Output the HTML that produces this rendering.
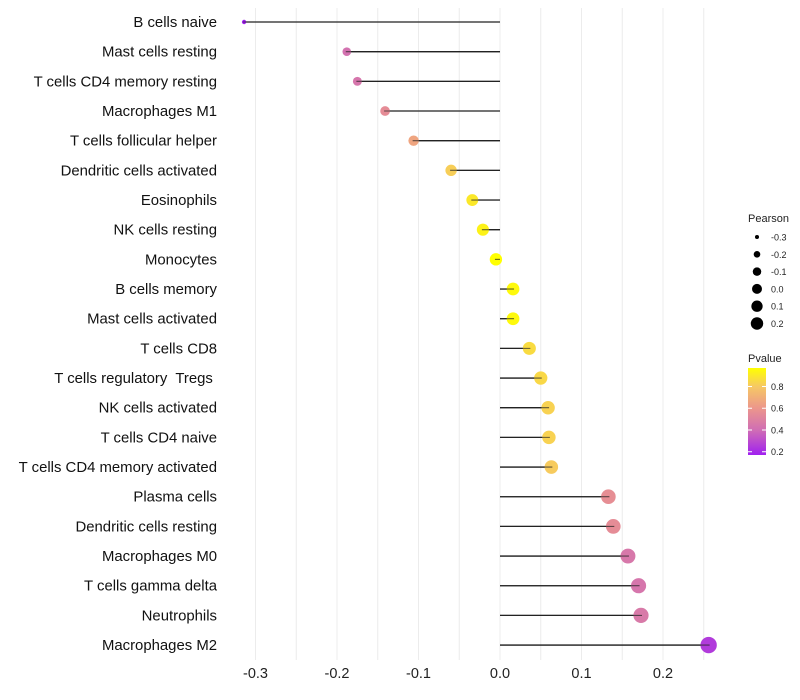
<!DOCTYPE html>
<html><head><meta charset="utf-8"><style>
body{margin:0;background:#fff;font-family:"Liberation Sans",Arial,sans-serif}
svg{display:block}
text{white-space:pre}
</style></head><body>
<svg id="chart" width="800" height="700"></svg>
<script>
const categories=["B cells naive","Mast cells resting","T cells CD4 memory resting","Macrophages M1","T cells follicular helper","Dendritic cells activated","Eosinophils","NK cells resting","Monocytes","B cells memory","Mast cells activated","T cells CD8","T cells regulatory  Tregs ","NK cells activated","T cells CD4 naive","T cells CD4 memory activated","Plasma cells","Dendritic cells resting","Macrophages M0","T cells gamma delta","Neutrophils","Macrophages M2"];
const pearson=[-0.314,-0.188,-0.175,-0.141,-0.106,-0.060,-0.034,-0.021,-0.005,0.016,0.016,0.036,0.050,0.059,0.060,0.063,0.133,0.139,0.157,0.170,0.173,0.256];
const pvalue=[0.17,0.42,0.44,0.55,0.66,0.82,0.90,0.93,0.98,0.95,0.95,0.86,0.85,0.83,0.83,0.81,0.56,0.55,0.45,0.44,0.46,0.25];
const xTicks=[-0.3,-0.2,-0.1,0.0,0.1,0.2];
const xTickLabels=["-0.3","-0.2","-0.1","0.0","0.1","0.2"];
const sizeLegend=[-0.3,-0.2,-0.1,0.0,0.1,0.2];
const sizeLegendLabels=["-0.3","-0.2","-0.1","0.0","0.1","0.2"];
const colorTicks=[0.2,0.4,0.6,0.8];

const NS="http://www.w3.org/2000/svg";
const svg=document.getElementById('chart');
function mk(t,a,p){const e=document.createElementNS(NS,t);for(const k in a)e.setAttribute(k,a[k]);(p||svg).appendChild(e);return e;}
const x=v=>500+v*815;
const y=i=>22+i*29.67;
const rad=v=>1.15*Math.sqrt(Math.max(2,4+82*(v+0.31)));
const stops=[[0.17,[160,32,240]],[0.4,[208,110,180]],[0.6,[236,150,140]],[0.8,[246,200,100]],[0.97,[255,255,0]]];
function col(p){if(p<=stops[0][0])return `rgb(${stops[0][1]})`;for(let i=1;i<stops.length;i++){if(p<=stops[i][0]){const a=stops[i-1],b=stops[i],t=(p-a[0])/(b[0]-a[0]);return `rgb(${a[1].map((c,j)=>Math.round(c+(b[1][j]-c)*t)).join(',')})`;}}return 'rgb(255,255,0)';}

const grid=mk('g',{});


for(let v=-0.3;v<=0.251;v+=0.05){mk('line',{x1:x(v),x2:x(v),y1:8,y2:660,stroke:'#ececec','stroke-width':1},grid);}

const xa=mk('g',{});


xTicks.forEach((v,i)=>{const t=mk('text',{x:x(v),y:678,'font-size':14.5,'text-anchor':'middle',fill:'#222'},xa);t.textContent=xTickLabels[i];

});

const ya=mk('g',{});


categories.forEach((c,i)=>{const t=mk('text',{x:217,y:y(i)+5,'font-size':14.9,'text-anchor':'end',fill:'#111'},ya);t.textContent=c;

});

categories.forEach((c,i)=>{
 const l=mk('line',{x1:x(0),x2:x(pearson[i]),y1:y(i),y2:y(i),stroke:'#222','stroke-width':1.3});
 
 
 const p=mk('circle',{cx:x(pearson[i]),cy:y(i),r:rad(pearson[i]),fill:col(pvalue[i])});
 
 
});
categories.forEach((c,i)=>{mk('line',{x1:x(0),x2:x(pearson[i])+(pearson[i]<0?-1:1),y1:y(i),y2:y(i),stroke:'#222','stroke-width':1.1,'stroke-opacity':0.7});});

const lg=mk('g',{});


mk('text',{x:748,y:222,'font-size':11,fill:'#222'},lg).textContent='Pearson';
sizeLegend.forEach((v,i)=>{const cy=237+i*17.3;
 const c=mk('circle',{cx:757,cy:cy,r:rad(v)*0.8,fill:'#000'},lg);
 
 
 mk('text',{x:771,y:cy+3.5,'font-size':9,fill:'#222'},lg).textContent=sizeLegendLabels[i];});

const cg=mk('g',{});


mk('text',{x:748,y:362,'font-size':11,fill:'#222'},cg).textContent='Pvalue';
const defs=mk('defs',{});
const grad=mk('linearGradient',{id:'pg',x1:0,y1:1,x2:0,y2:0},defs);
stops.forEach(s=>mk('stop',{offset:(s[0]-0.17)/0.8,'stop-color':`rgb(${s[1]})`},grad));
const cbTop=368,cbBot=455;
const cy=v=>cbBot-(v-0.17)/(0.97-0.17)*(cbBot-cbTop);
mk('rect',{x:748,y:cbTop,width:18,height:cbBot-cbTop,fill:'url(#pg)'},cg);
colorTicks.forEach(v=>{mk('line',{x1:748,x2:752,y1:cy(v),y2:cy(v),stroke:'#fff'},cg);mk('line',{x1:762,x2:766,y1:cy(v),y2:cy(v),stroke:'#fff'},cg);
 mk('text',{x:771,y:cy(v)+3.5,'font-size':9,fill:'#222'},cg).textContent=v.toFixed(1);});
</script>
</body></html>
